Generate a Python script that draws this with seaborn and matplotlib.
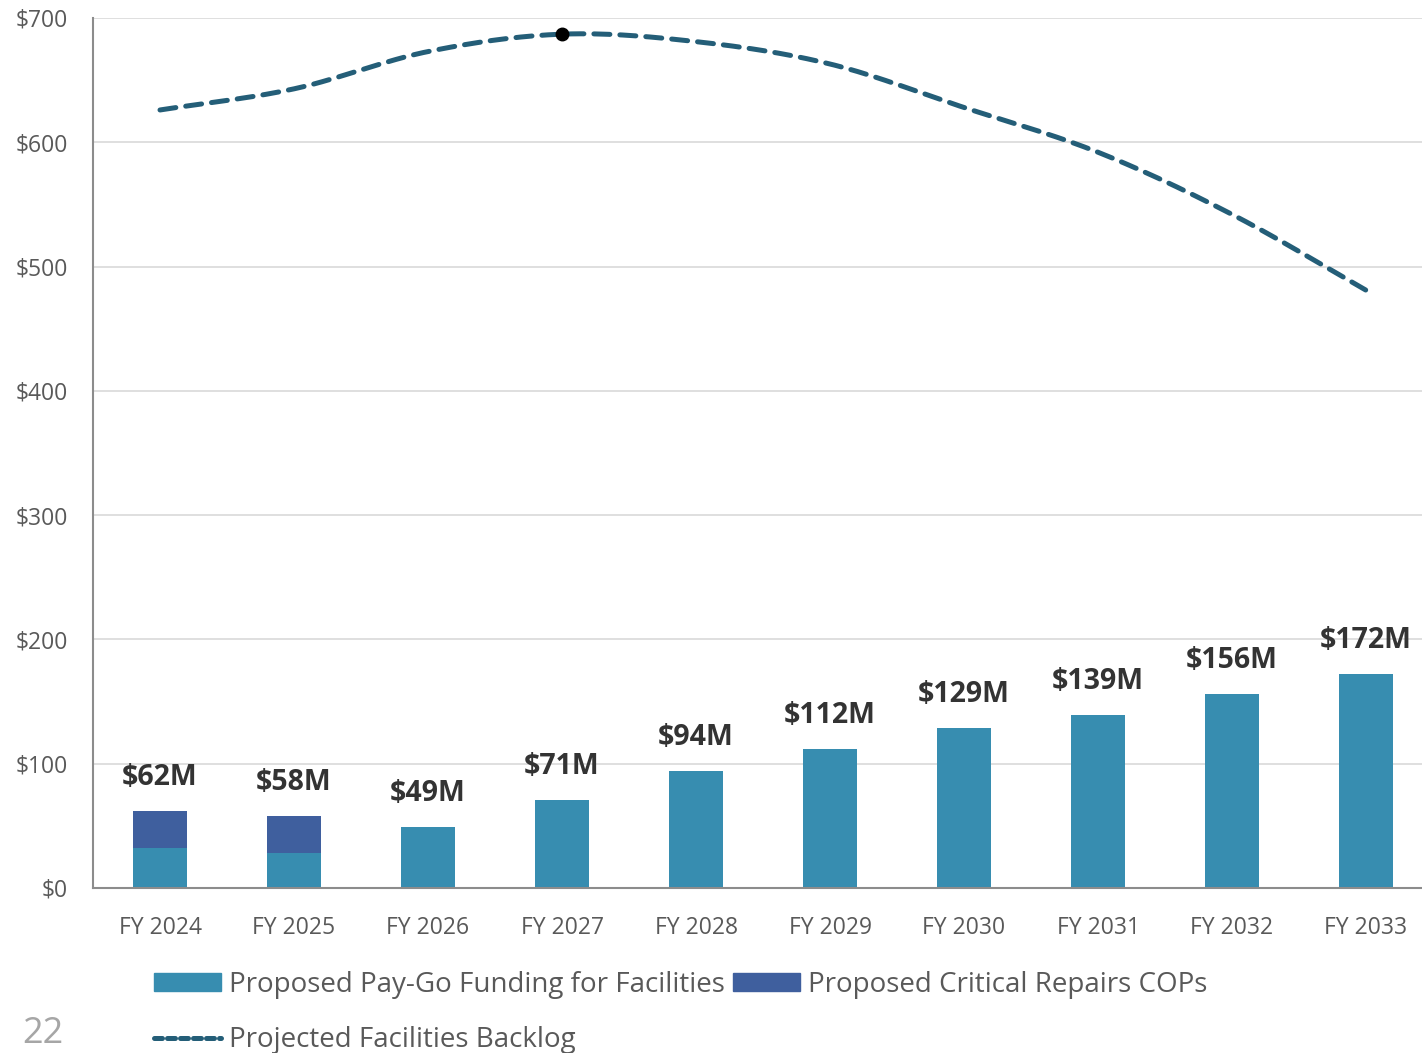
import numpy as np
import pandas as pd
import matplotlib
matplotlib.use("Agg")
import matplotlib.pyplot as plt
from matplotlib.patches import Patch
from matplotlib.lines import Line2D
import seaborn as sns

# Data ($ millions)
years = ["FY 2024", "FY 2025", "FY 2026", "FY 2027", "FY 2028",
         "FY 2029", "FY 2030", "FY 2031", "FY 2032", "FY 2033"]
paygo = [32, 28, 49, 71, 94, 112, 129, 139, 156, 172]
cops = [30, 30, 0, 0, 0, 0, 0, 0, 0, 0]
backlog = [626, 643, 673, 687, 681, 663, 628, 592, 542, 481]
peak_year = "FY 2027"

df = pd.DataFrame({"year": years, "paygo": paygo, "cops": cops, "backlog": backlog})
df["total"] = df["paygo"] + df["cops"]

c_paygo = "#378DB0"
c_cops = "#3F5F9E"
c_line = "#245E78"
c_text = "#595959"

sns.set_style("white")
plt.rcParams["font.family"] = ["Open Sans", "DejaVu Sans"]

fig = plt.figure(figsize=(14.22, 10.53), dpi=100)
ax = fig.add_axes([93 / 1422, 1 - 888 / 1053, 1340 / 1422, 870 / 1053])

# stacked bars: total in COPs colour, pay-go drawn over it
sns.barplot(data=df, x="year", y="total", color=c_cops, width=0.4, saturation=1,
            linewidth=0, ax=ax)
sns.barplot(data=df, x="year", y="paygo", color=c_paygo, width=0.4, saturation=1,
            linewidth=0, ax=ax)

for i, t in enumerate(df["total"]):
    ax.annotate(f"${t}M", (i, t), xytext=(0, 24), textcoords="offset points",
                ha="center", va="center", fontsize=20.5, fontweight="bold", color="#333333")


# smoothed backlog line (Catmull-Rom through the data points, drawing only)
def smooth(xs, ys, n=30):
    xs = np.asarray(xs, float)
    ys = np.asarray(ys, float)
    px = np.concatenate([[2 * xs[0] - xs[1]], xs, [2 * xs[-1] - xs[-2]]])
    py = np.concatenate([[2 * ys[0] - ys[1]], ys, [2 * ys[-1] - ys[-2]]])
    ox, oy = [], []
    t = np.linspace(0, 1, n)
    for k in range(1, len(px) - 2):
        for p, o in ((px, ox), (py, oy)):
            p0, p1, p2, p3 = p[k - 1], p[k], p[k + 1], p[k + 2]
            o.extend(0.5 * (2 * p1 + (-p0 + p2) * t + (2 * p0 - 5 * p1 + 4 * p2 - p3) * t ** 2
                            + (-p0 + 3 * p1 - 3 * p2 + p3) * t ** 3))
    return ox, oy


xpos = np.arange(len(years))
sx, sy = smooth(xpos, df["backlog"])
ax.plot(sx, sy, color=c_line, lw=3.6, dashes=(3.2, 2.0), dash_capstyle="round")
pk = years.index(peak_year)
ax.plot(pk, backlog[pk], "o", color="black", ms=9, zorder=5)

ax.set_ylim(0, 700)
ax.set_xlim(-0.5, 9.5)
ax.set_yticks(range(0, 701, 100))
ax.set_yticklabels([f"${v}" for v in range(0, 701, 100)])
ax.set_xlabel("")
ax.set_ylabel("")
ax.grid(axis="y", color="#D9D9D9", lw=1.2)
ax.set_axisbelow(True)
for s in ["top", "right"]:
    ax.spines[s].set_visible(False)
for s in ["left", "bottom"]:
    ax.spines[s].set_color("#8C8C8C")
    ax.spines[s].set_linewidth(1.5)
ax.tick_params(axis="both", length=0, labelsize=16.5, colors=c_text)
ax.tick_params(axis="y", pad=18)
ax.tick_params(axis="x", pad=20)

handles = [Patch(color=c_paygo),
           Line2D([], [], color=c_line, lw=3.6, dashes=(1.6, 1.0), dash_capstyle="round"),
           Patch(color=c_cops)]
labels = ["Proposed Pay-Go Funding for Facilities", "Projected Facilities Backlog",
          "Proposed Critical Repairs COPs"]
leg = fig.legend(handles, labels, ncol=2, loc="upper left", bbox_to_anchor=(154 / 1422, 1 - 971 / 1053),
                 frameon=False, fontsize=20, handlelength=2.4, handleheight=0.6, handletextpad=0.3,
                 columnspacing=0.3, labelspacing=0.98, borderpad=0, borderaxespad=0)
for t in leg.get_texts():
    t.set_color(c_text)

fig.text(22 / 1422, 1 - 1034 / 1053, "22", fontsize=26, color="#A6A6A6", va="center")

fig.savefig("out.png", dpi=100)
